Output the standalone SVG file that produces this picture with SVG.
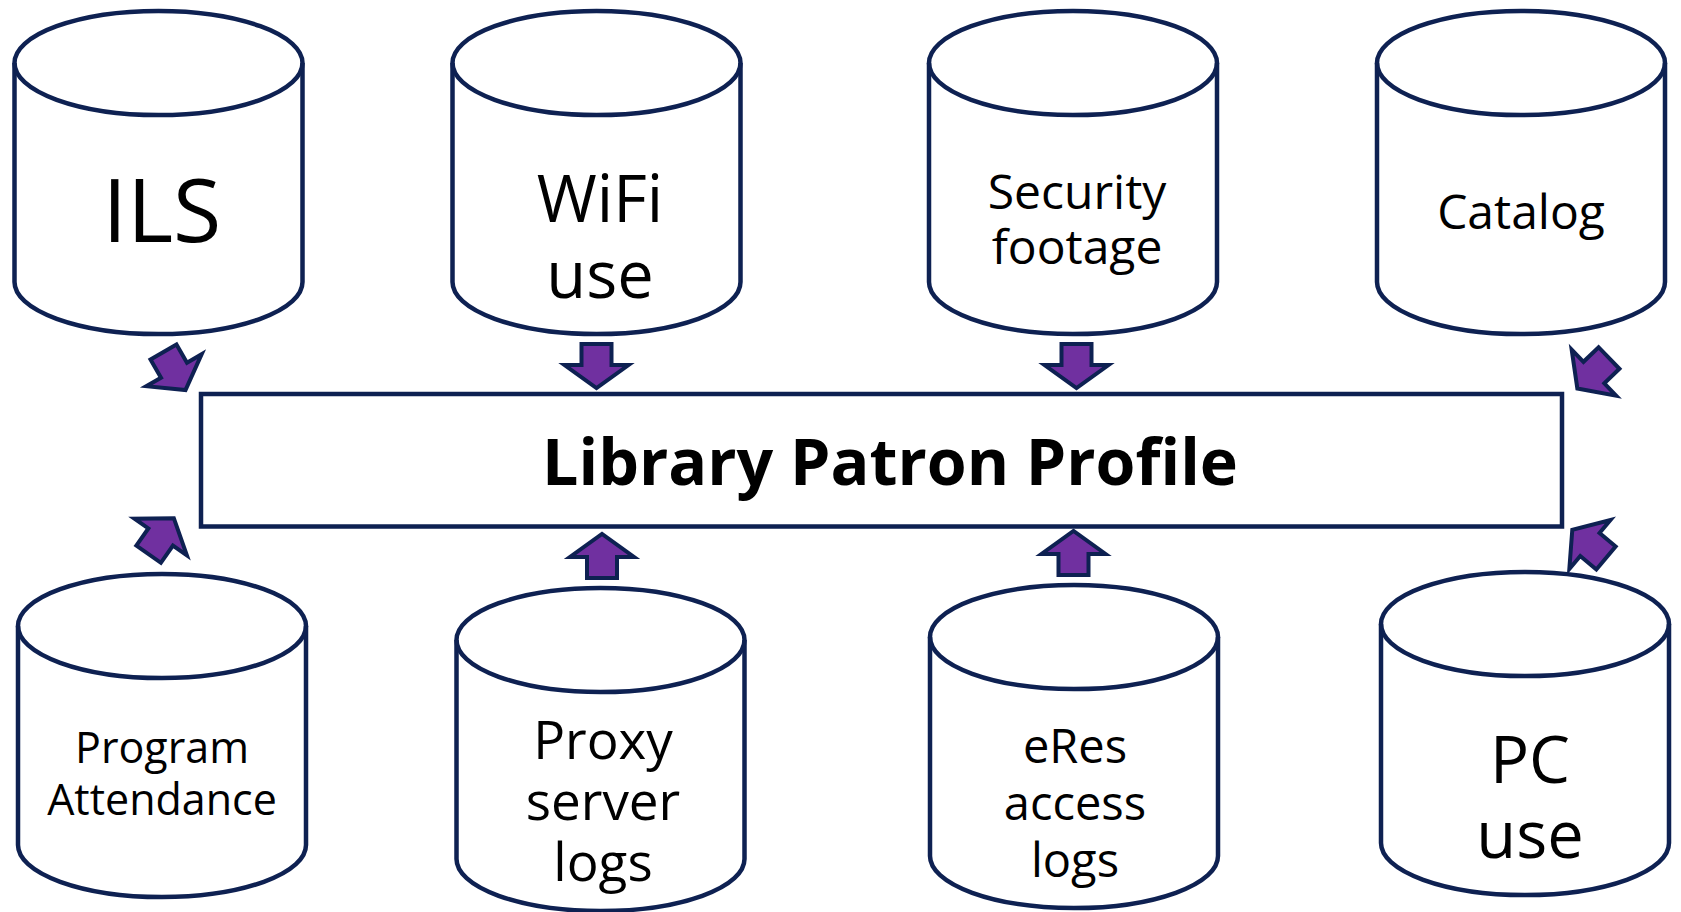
<svg xmlns="http://www.w3.org/2000/svg" xmlns:xlink="http://www.w3.org/1999/xlink" width="1681" height="912" viewBox="0 0 1681 912">
  <style>
    .cyl { fill: #ffffff; stroke: #0E2152; stroke-width: 4.5; stroke-linejoin: round; }
    .rim { fill: none; stroke: #0E2152; stroke-width: 4.5; }
    .lbl { font-family: "Open Sans", "Noto Sans", "Liberation Sans", sans-serif; fill: #000000; text-anchor: middle; }
    .box { fill: #ffffff; stroke: #0E2152; stroke-width: 4.5; }
    .title { font-family: "Open Sans", "Noto Sans", "Liberation Sans", sans-serif; font-weight: 700; fill: #000000; text-anchor: middle; }
    .arw { fill: #7030A0; stroke: #0E2152; stroke-width: 4; stroke-linejoin: miter; stroke-miterlimit: 10; }
  </style>
  <defs>
    <!-- database cylinder, origin at top-centre of outer edge -->
    <g id="can">
      <path class="cyl" d="M-144,54 A144,52 0 0 1 144,54 V273 A144,52 0 0 1 -144,273 Z"/>
      <path class="rim" d="M-144,54 A144,52 0 0 0 144,54"/>
    </g>
    <!-- block arrow pointing along +x, tail at origin -->
    <path id="blk" class="arw" d="M0,-15 H21 V-32 L44,0 L21,32 V15 H0 Z"/>
  </defs>

  <rect width="1681" height="912" fill="#ffffff"/>

  <g id="ils">
    <use xlink:href="#can" href="#can" transform="translate(158.5,9)"/>
    <text class="lbl" x="162" y="242" font-size="88">ILS</text>
  </g>
  <g id="wifi">
    <use xlink:href="#can" href="#can" transform="translate(596.5,9)"/>
    <text class="lbl" x="600" y="222" font-size="65">WiFi</text>
    <text class="lbl" x="600" y="298" font-size="65">use</text>
  </g>
  <g id="security">
    <use xlink:href="#can" href="#can" transform="translate(1073,9)"/>
    <text class="lbl" x="1077" y="209" font-size="48">Security</text>
    <text class="lbl" x="1077" y="264" font-size="48">footage</text>
  </g>
  <g id="catalog">
    <use xlink:href="#can" href="#can" transform="translate(1521,9)"/>
    <text class="lbl" x="1521" y="229" font-size="48">Catalog</text>
  </g>

  <g id="profile">
    <rect class="box" x="201" y="394" width="1361" height="132.5"/>
    <text class="title" x="890" y="485" font-size="64.5">Library Patron Profile</text>
  </g>

  <g id="program">
    <use xlink:href="#can" href="#can" transform="translate(162,572)"/>
    <text class="lbl" x="162" y="763" font-size="43">Program</text>
    <text class="lbl" x="162" y="815" font-size="43">Attendance</text>
  </g>
  <g id="proxy">
    <use xlink:href="#can" href="#can" transform="translate(600.5,586)"/>
    <text class="lbl" x="603" y="759" font-size="53">Proxy</text>
    <text class="lbl" x="603" y="820" font-size="53">server</text>
    <text class="lbl" x="603" y="881" font-size="53">logs</text>
  </g>
  <g id="eres">
    <use xlink:href="#can" href="#can" transform="translate(1074,583)"/>
    <text class="lbl" x="1075" y="763" font-size="47">eRes</text>
    <text class="lbl" x="1075" y="820" font-size="47">access</text>
    <text class="lbl" x="1075" y="877" font-size="47">logs</text>
  </g>
  <g id="pc">
    <use xlink:href="#can" href="#can" transform="translate(1525,570)"/>
    <text class="lbl" x="1530" y="783" font-size="65">PC</text>
    <text class="lbl" x="1530" y="858" font-size="65">use</text>
  </g>

  <g id="connectors">
    <use xlink:href="#blk" href="#blk" transform="translate(163.5,352) rotate(60)"/>
    <use xlink:href="#blk" href="#blk" transform="translate(596.5,344) rotate(90)"/>
    <use xlink:href="#blk" href="#blk" transform="translate(1076.5,344) rotate(90)"/>
    <use xlink:href="#blk" href="#blk" transform="translate(1609,358) rotate(136)"/>
    <use xlink:href="#blk" href="#blk" transform="translate(148.6,554.2) rotate(-55)"/>
    <use xlink:href="#blk" href="#blk" transform="translate(602,578) rotate(-90)"/>
    <use xlink:href="#blk" href="#blk" transform="translate(1073.5,575) rotate(-90)"/>
    <use xlink:href="#blk" href="#blk" transform="translate(1606,558) rotate(-140)"/>
  </g>
</svg>
